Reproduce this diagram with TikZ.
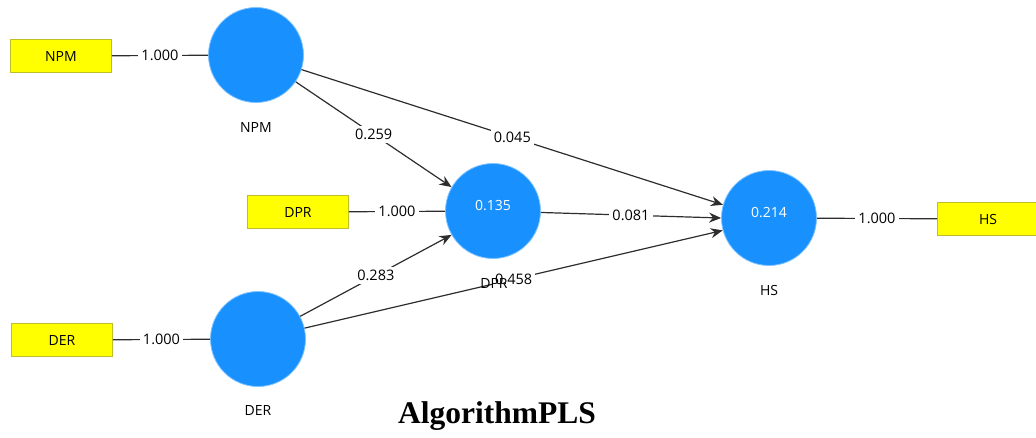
\documentclass[tikz,border=0pt]{standalone}
\usepackage{fontspec}
\setmainfont{Open Sans}
\newfontfamily\titlefont{Liberation Serif}
\usetikzlibrary{arrows.meta,positioning}
\definecolor{plsblue}{RGB}{24,145,255}
\definecolor{plsedge}{RGB}{45,45,45}
\definecolor{plsyellow}{RGB}{255,255,0}
\definecolor{plsframe}{RGB}{190,190,40}
\tikzset{
  latent/.style={circle,fill=plsblue,draw=plsblue!55,line width=0.8pt,
    minimum size=95pt,inner sep=0pt,text=white,font=\fontsize{14}{16}\selectfont},
  indicator/.style={rectangle,fill=plsyellow,draw=plsframe,line width=0.8pt,
    minimum width=101pt,minimum height=33pt,inner sep=0pt,font=\fontsize{14}{16}\selectfont},
  caption/.style={font=\fontsize{14}{16}\selectfont},
  coef/.style={fill=white,inner sep=3pt,font=\fontsize{14.5}{16}\selectfont},
  path/.style={draw=plsedge,line width=1.2pt,-{Stealth[length=12pt,width=10pt]}},
  loading/.style={draw=plsedge,line width=1.2pt}
}
\begin{document}
\begin{tikzpicture}[x=1pt,y=-1pt]
  \useasboundingbox (0,0) rectangle (1036,437);
  % constructs
  \node[latent] (npm) at (256,55) {};
  \node[latent] (dpr) at (493,211) {};
  \node[latent] (der) at (258,339) {};
  \node[latent] (hs) at (769,218) {};
  % values inside the circles
  \node[text=white,caption] (dprr) at (493,206) {0.135};
  \node[text=white,caption] (hsr) at (769,213) {0.214};
  % indicators
  \node[indicator] (xnpm) at (61,56) {NPM};
  \node[indicator] (xdpr) at (298,212) {DPR};
  \node[indicator] (xder) at (62,340) {DER};
  \node[indicator] (xhs) at (988,219) {HS};
  % outer loadings
  \draw[loading] (xnpm) -- node[coef] {1.000} (npm);
  \draw[loading] (xdpr) -- node[coef] {1.000} (dpr);
  \draw[loading] (xder) -- node[coef] {1.000} (der);
  \draw[loading] (hs) -- node[coef] {1.000} (xhs);
  % inner model
  \draw[path] (npm) -- node[coef] {0.259} (dpr.150);
  \draw[path] (npm) -- node[coef,pos=0.5] {0.045} (hs.164);
  \draw[path] (dpr) -- node[coef] {0.081} (hs.180);
  \draw[path] (der) -- node[coef] {0.283} (dpr.210);
  \draw[path] (der) -- node[coef] {0.458} (hs.195);
  % construct names
  \node[caption] (npmlbl) at (256,127) {NPM};
  \node[caption] (dprlbl) at (494,283) {DPR};
  \node[caption] (derlbl) at (258,410) {DER};
  \node[caption] (hslbl) at (769,290) {HS};
  \node[font=\titlefont\bfseries\fontsize{31.5}{33}\selectfont] (title) at (497,416) {AlgorithmPLS};
\end{tikzpicture}
\end{document}
